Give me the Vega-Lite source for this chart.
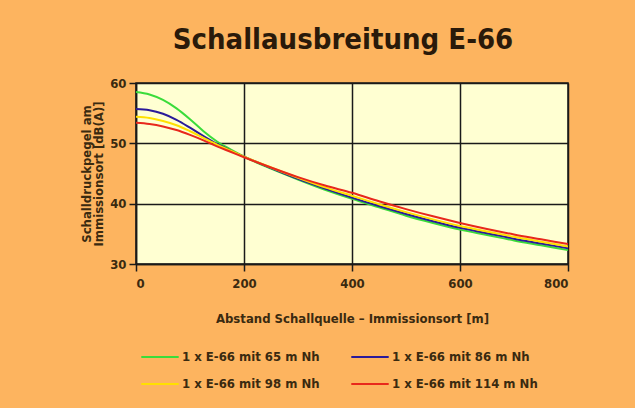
{
  "$schema": "https://vega.github.io/schema/vega-lite/v6.json",
  "width": 432,
  "height": 181,
  "autosize": {"type": "none"},
  "padding": {"left": 136, "top": 83, "right": 67, "bottom": 144},
  "background": "#FDB45F",
  "title": {
    "text": "Schallausbreitung E-66",
    "fontSize": 29,
    "font": "DejaVu Sans Condensed, sans-serif",
    "fontWeight": "bold",
    "color": "#2a1a0a",
    "anchor": "middle",
    "offset": 22,
    "dx": -9
  },
  "config": {
    "view": {"fill": "#FFFFD2", "stroke": "#1a1a1a", "strokeWidth": 1.5},
    "axis": {
      "labelFont": "DejaVu Sans Condensed, sans-serif",
      "titleFont": "DejaVu Sans Condensed, sans-serif",
      "labelFontWeight": "bold",
      "titleFontWeight": "bold",
      "labelFontSize": 13,
      "titleFontSize": 13,
      "labelColor": "#3a2a10",
      "titleColor": "#3a2a10",
      "domainColor": "#1a1a1a",
      "domainWidth": 1.5,
      "tickColor": "#1a1a1a",
      "tickWidth": 1.5,
      "tickSize": 7,
      "gridColor": "#1a1a1a",
      "gridWidth": 1.5,
      "gridOpacity": 1
    },
    "legend": {
      "labelFont": "DejaVu Sans Condensed, sans-serif",
      "labelFontWeight": "bold",
      "labelFontSize": 13,
      "labelColor": "#3a2a10"
    }
  },
  "data": {
    "values": [
      {"d": 0, "s": "1 x E-66 mit 65 m Nh", "v": 58.5},
      {"d": 25, "s": "1 x E-66 mit 65 m Nh", "v": 58.1},
      {"d": 50, "s": "1 x E-66 mit 65 m Nh", "v": 57.2},
      {"d": 75, "s": "1 x E-66 mit 65 m Nh", "v": 55.8},
      {"d": 100, "s": "1 x E-66 mit 65 m Nh", "v": 54.0},
      {"d": 125, "s": "1 x E-66 mit 65 m Nh", "v": 52.0},
      {"d": 150, "s": "1 x E-66 mit 65 m Nh", "v": 50.3},
      {"d": 175, "s": "1 x E-66 mit 65 m Nh", "v": 49.0},
      {"d": 200, "s": "1 x E-66 mit 65 m Nh", "v": 47.8},
      {"d": 250, "s": "1 x E-66 mit 65 m Nh", "v": 45.8},
      {"d": 300, "s": "1 x E-66 mit 65 m Nh", "v": 44.0},
      {"d": 350, "s": "1 x E-66 mit 65 m Nh", "v": 42.3},
      {"d": 400, "s": "1 x E-66 mit 65 m Nh", "v": 40.8},
      {"d": 450, "s": "1 x E-66 mit 65 m Nh", "v": 39.4},
      {"d": 500, "s": "1 x E-66 mit 65 m Nh", "v": 38.0},
      {"d": 550, "s": "1 x E-66 mit 65 m Nh", "v": 36.8},
      {"d": 600, "s": "1 x E-66 mit 65 m Nh", "v": 35.7},
      {"d": 650, "s": "1 x E-66 mit 65 m Nh", "v": 34.8},
      {"d": 700, "s": "1 x E-66 mit 65 m Nh", "v": 33.9},
      {"d": 750, "s": "1 x E-66 mit 65 m Nh", "v": 33.1},
      {"d": 800, "s": "1 x E-66 mit 65 m Nh", "v": 32.3},
      {"d": 0, "s": "1 x E-66 mit 86 m Nh", "v": 55.7},
      {"d": 25, "s": "1 x E-66 mit 86 m Nh", "v": 55.5},
      {"d": 50, "s": "1 x E-66 mit 86 m Nh", "v": 54.9},
      {"d": 75, "s": "1 x E-66 mit 86 m Nh", "v": 53.9},
      {"d": 100, "s": "1 x E-66 mit 86 m Nh", "v": 52.6},
      {"d": 125, "s": "1 x E-66 mit 86 m Nh", "v": 51.2},
      {"d": 150, "s": "1 x E-66 mit 86 m Nh", "v": 49.9},
      {"d": 175, "s": "1 x E-66 mit 86 m Nh", "v": 48.8},
      {"d": 200, "s": "1 x E-66 mit 86 m Nh", "v": 47.8},
      {"d": 250, "s": "1 x E-66 mit 86 m Nh", "v": 45.9},
      {"d": 300, "s": "1 x E-66 mit 86 m Nh", "v": 44.1},
      {"d": 350, "s": "1 x E-66 mit 86 m Nh", "v": 42.5},
      {"d": 400, "s": "1 x E-66 mit 86 m Nh", "v": 41.0},
      {"d": 450, "s": "1 x E-66 mit 86 m Nh", "v": 39.6},
      {"d": 500, "s": "1 x E-66 mit 86 m Nh", "v": 38.3},
      {"d": 550, "s": "1 x E-66 mit 86 m Nh", "v": 37.1},
      {"d": 600, "s": "1 x E-66 mit 86 m Nh", "v": 36.0},
      {"d": 650, "s": "1 x E-66 mit 86 m Nh", "v": 35.1},
      {"d": 700, "s": "1 x E-66 mit 86 m Nh", "v": 34.2},
      {"d": 750, "s": "1 x E-66 mit 86 m Nh", "v": 33.4},
      {"d": 800, "s": "1 x E-66 mit 86 m Nh", "v": 32.6},
      {"d": 0, "s": "1 x E-66 mit 98 m Nh", "v": 54.4},
      {"d": 25, "s": "1 x E-66 mit 98 m Nh", "v": 54.2},
      {"d": 50, "s": "1 x E-66 mit 98 m Nh", "v": 53.7},
      {"d": 75, "s": "1 x E-66 mit 98 m Nh", "v": 53.0},
      {"d": 100, "s": "1 x E-66 mit 98 m Nh", "v": 52.0},
      {"d": 125, "s": "1 x E-66 mit 98 m Nh", "v": 50.9},
      {"d": 150, "s": "1 x E-66 mit 98 m Nh", "v": 49.8},
      {"d": 175, "s": "1 x E-66 mit 98 m Nh", "v": 48.8},
      {"d": 200, "s": "1 x E-66 mit 98 m Nh", "v": 47.8},
      {"d": 250, "s": "1 x E-66 mit 98 m Nh", "v": 46.0},
      {"d": 300, "s": "1 x E-66 mit 98 m Nh", "v": 44.3},
      {"d": 350, "s": "1 x E-66 mit 98 m Nh", "v": 42.7},
      {"d": 400, "s": "1 x E-66 mit 98 m Nh", "v": 41.3},
      {"d": 450, "s": "1 x E-66 mit 98 m Nh", "v": 39.9},
      {"d": 500, "s": "1 x E-66 mit 98 m Nh", "v": 38.6},
      {"d": 550, "s": "1 x E-66 mit 98 m Nh", "v": 37.4},
      {"d": 600, "s": "1 x E-66 mit 98 m Nh", "v": 36.3},
      {"d": 650, "s": "1 x E-66 mit 98 m Nh", "v": 35.4},
      {"d": 700, "s": "1 x E-66 mit 98 m Nh", "v": 34.5},
      {"d": 750, "s": "1 x E-66 mit 98 m Nh", "v": 33.7},
      {"d": 800, "s": "1 x E-66 mit 98 m Nh", "v": 32.9},
      {"d": 0, "s": "1 x E-66 mit 114 m Nh", "v": 53.4},
      {"d": 25, "s": "1 x E-66 mit 114 m Nh", "v": 53.2},
      {"d": 50, "s": "1 x E-66 mit 114 m Nh", "v": 52.8},
      {"d": 75, "s": "1 x E-66 mit 114 m Nh", "v": 52.2},
      {"d": 100, "s": "1 x E-66 mit 114 m Nh", "v": 51.4},
      {"d": 125, "s": "1 x E-66 mit 114 m Nh", "v": 50.5},
      {"d": 150, "s": "1 x E-66 mit 114 m Nh", "v": 49.5},
      {"d": 175, "s": "1 x E-66 mit 114 m Nh", "v": 48.6},
      {"d": 200, "s": "1 x E-66 mit 114 m Nh", "v": 47.7},
      {"d": 250, "s": "1 x E-66 mit 114 m Nh", "v": 46.0},
      {"d": 300, "s": "1 x E-66 mit 114 m Nh", "v": 44.4},
      {"d": 350, "s": "1 x E-66 mit 114 m Nh", "v": 43.0},
      {"d": 400, "s": "1 x E-66 mit 114 m Nh", "v": 41.8},
      {"d": 450, "s": "1 x E-66 mit 114 m Nh", "v": 40.4},
      {"d": 500, "s": "1 x E-66 mit 114 m Nh", "v": 39.1},
      {"d": 550, "s": "1 x E-66 mit 114 m Nh", "v": 37.9},
      {"d": 600, "s": "1 x E-66 mit 114 m Nh", "v": 36.8},
      {"d": 650, "s": "1 x E-66 mit 114 m Nh", "v": 35.8},
      {"d": 700, "s": "1 x E-66 mit 114 m Nh", "v": 34.9},
      {"d": 750, "s": "1 x E-66 mit 114 m Nh", "v": 34.1},
      {"d": 800, "s": "1 x E-66 mit 114 m Nh", "v": 33.3}
    ]
  },
  "mark": {"type": "line", "strokeWidth": 2, "interpolate": "monotone"},
  "encoding": {
    "x": {
      "field": "d",
      "type": "quantitative",
      "scale": {"domain": [0, 800], "nice": false},
      "axis": {"values": [0, 200, 400, 600, 800], "title": "Abstand Schallquelle – Immissionsort [m]", "titlePadding": 22, "labelPadding": 6}
    },
    "y": {
      "field": "v",
      "type": "quantitative",
      "scale": {"domain": [30, 60], "nice": false, "zero": false},
      "axis": {"values": [30, 40, 50, 60], "title": ["Schalldruckpegel am", "Immissionsort [dB(A)]"], "titlePadding": 4, "titleLineHeight": 12, "labelPadding": 3}
    },
    "color": {
      "field": "s",
      "type": "nominal",
      "sort": ["1 x E-66 mit 65 m Nh", "1 x E-66 mit 86 m Nh", "1 x E-66 mit 98 m Nh", "1 x E-66 mit 114 m Nh"],
      "scale": {
        "domain": ["1 x E-66 mit 65 m Nh", "1 x E-66 mit 86 m Nh", "1 x E-66 mit 98 m Nh", "1 x E-66 mit 114 m Nh"],
        "range": ["#3ADC3A", "#2A1A9A", "#FFE000", "#E8281C"]
      },
      "legend": {
        "title": null,
        "orient": "none",
        "legendX": 4,
        "legendY": 254,
        "columns": 2,
        "direction": "horizontal",
        "symbolType": "stroke",
        "symbolSize": 1400,
        "symbolStrokeWidth": 2,
        "columnPadding": 27,
        "rowPadding": -5,
        "labelOffset": 2
      }
    }
  }
}
